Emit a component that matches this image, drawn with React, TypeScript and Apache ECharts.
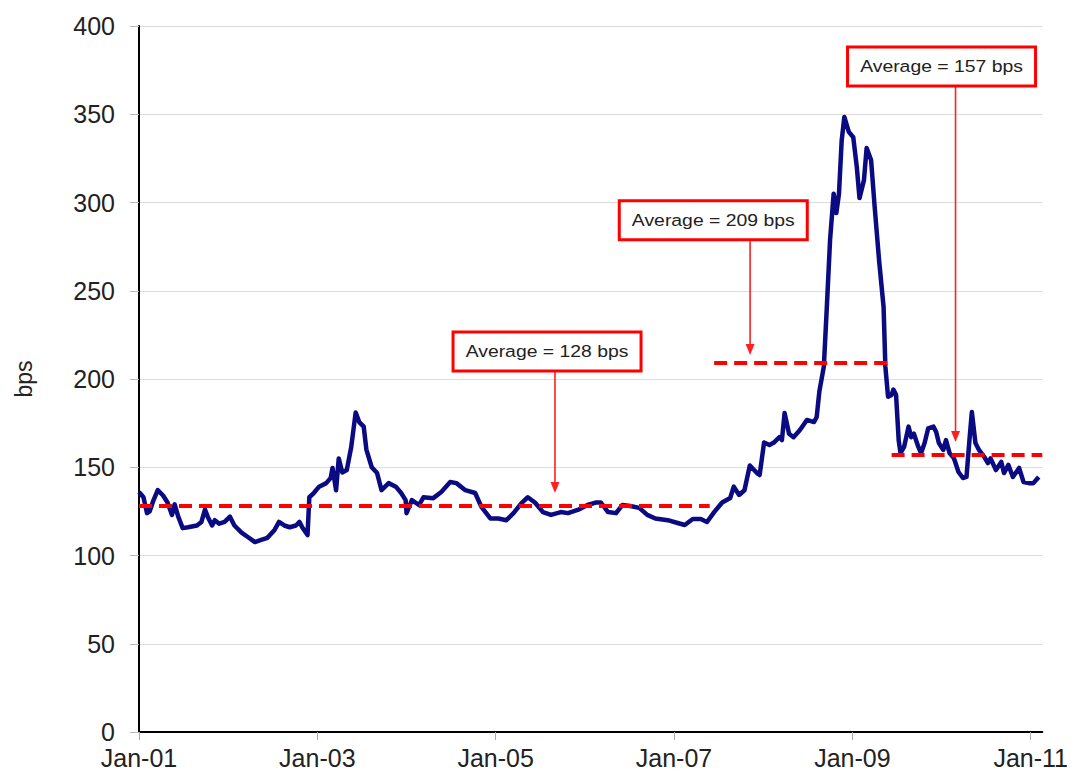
import React, { useEffect, useRef } from "react";
import * as echarts from "echarts";

// Decimal dates of the series points (years)
const years = [
  2001.0, 2001.05, 2001.09, 2001.12, 2001.16, 2001.21, 2001.27, 2001.32, 2001.37, 2001.40,
  2001.44, 2001.49, 2001.55, 2001.65, 2001.70, 2001.74, 2001.77, 2001.82, 2001.85, 2001.90,
  2001.96, 2002.02, 2002.07, 2002.15, 2002.22, 2002.30, 2002.37, 2002.44, 2002.52, 2002.57,
  2002.63, 2002.69, 2002.76, 2002.80, 2002.83, 2002.89, 2002.91, 2002.96, 2003.02, 2003.10,
  2003.15, 2003.17, 2003.21, 2003.24, 2003.28, 2003.33, 2003.38, 2003.43, 2003.47, 2003.52,
  2003.55, 2003.61, 2003.67, 2003.72, 2003.80, 2003.88, 2003.94, 2003.99, 2004.00, 2004.06,
  2004.14, 2004.19, 2004.30, 2004.39, 2004.49, 2004.56, 2004.66, 2004.77, 2004.84, 2004.94,
  2005.03, 2005.12, 2005.20, 2005.29, 2005.36, 2005.44, 2005.53, 2005.62, 2005.73, 2005.81,
  2005.92, 2006.03, 2006.12, 2006.18, 2006.26, 2006.35, 2006.42, 2006.51, 2006.61, 2006.70,
  2006.79, 2006.93, 2007.04, 2007.12, 2007.21, 2007.30, 2007.37, 2007.45, 2007.54, 2007.63,
  2007.67, 2007.73, 2007.79, 2007.85, 2007.93, 2007.96, 2008.01, 2008.07, 2008.12, 2008.18,
  2008.21, 2008.24, 2008.29, 2008.34, 2008.41, 2008.49, 2008.57, 2008.60, 2008.63, 2008.68,
  2008.71, 2008.75, 2008.79, 2008.82, 2008.85, 2008.88, 2008.91, 2008.96, 2009.01, 2009.05,
  2009.08, 2009.13, 2009.16, 2009.21, 2009.25, 2009.30, 2009.35, 2009.37, 2009.40, 2009.44,
  2009.46, 2009.49, 2009.52, 2009.54, 2009.58, 2009.63, 2009.66, 2009.69, 2009.74, 2009.77,
  2009.81, 2009.85, 2009.91, 2009.94, 2009.97, 2010.02, 2010.05, 2010.09, 2010.14, 2010.19,
  2010.24, 2010.28, 2010.31, 2010.34, 2010.38, 2010.42, 2010.48, 2010.52, 2010.55, 2010.61,
  2010.67, 2010.70, 2010.75, 2010.80, 2010.87, 2010.92, 2010.98, 2011.03, 2011.09,
];

// Spread in bps
const spreads = [
  136, 133, 124, 125, 131, 137, 134, 130, 123, 129,
  122, 115.5, 116, 117, 119, 126, 122, 117, 120, 118,
  119, 122, 117, 113, 110.5, 107.6, 108.8, 110, 114.5, 119,
  117, 116, 117, 119, 116, 111.6, 133, 135.4, 139, 141,
  144, 149.6, 137, 155, 147, 148.4, 161.5, 181, 175.6, 173,
  160, 150, 146.7, 137, 141, 139, 135.4, 131.4, 124, 131.4,
  128.6, 133, 132.5, 136, 141.6, 141, 137, 135.4, 127.5, 121,
  121, 120, 124, 129.7, 133, 130, 124.6, 123, 124.6, 124,
  125.8, 128.6, 130, 130, 124.6, 124, 128.6, 128, 127, 123,
  121, 120, 118.4, 117.3, 120.7, 120.7, 119, 124.6, 130, 132.6,
  139, 134.3, 137, 151, 146.7, 145.6, 164, 162.6, 164, 167,
  165.4, 180.7, 169, 167, 171, 176.8, 175.6, 178.5, 193, 207,
  237, 278.8, 305, 294, 305, 335, 348.5, 340, 337, 320,
  302.5, 312.7, 330.9, 324, 297.5, 267, 240.8, 207, 190, 191,
  194, 191, 165, 158, 161.5, 173, 167, 169, 161.5, 158,
  163.7, 172, 173, 170, 163.7, 159.8, 165.4, 158, 155, 147.3,
  143.9, 144.5, 163.7, 181.3, 163.7, 159.8, 155.8, 152.4, 155, 148.4,
  153, 146.7, 151.3, 144.5, 149.6, 141.6, 141, 141, 144.5,
];

// Period averages (bps) and their date ranges (years)
const avgValues = [128, 209, 157];
const avgStarts = [2001.0, 2007.45, 2009.44];
const avgEnds = [2007.4, 2009.39, 2011.13];
const avgLabels = ["Average = 128 bps", "Average = 209 bps", "Average = 157 bps"];

// Axis
const baseYear = 2001;
const xMaxYear = 2011.13;
const yTicks = [0, 50, 100, 150, 200, 250, 300, 350, 400];

// Annotation layout (box centre and arrow in data space)
const notes = [
  { boxT: 4.576, boxV: 215.6, arrowT: 4.665, tipV: 135.4 },
  { boxT: 6.44, boxV: 290, arrowT: 6.853, tipV: 213.6 },
  { boxT: 9.0, boxV: 377, arrowT: 9.157, tipV: 164.3 },
];

export default function App() {
  const ref = useRef<HTMLDivElement>(null);
  useEffect(() => {
    if (!ref.current) return;
    const chart = echarts.init(ref.current, null, { renderer: "svg" });
    const lineData = years.map((y, i) => [y - baseYear, spreads[i]]);
    const avgSeries = avgValues.map((v, i) => ({
      type: "line",
      data: [
        [avgStarts[i] - baseYear, v],
        [avgEnds[i] - baseYear, v],
      ],
      symbol: "none",
      silent: true,
      z: 3,
      lineStyle: { color: "#ff0000", width: 4, type: [13, 7] },
    }));
    chart.setOption({
      animation: false,
      backgroundColor: "#ffffff",
      grid: { left: 139, right: 24, top: 26, bottom: 42, containLabel: false },
      xAxis: {
        type: "value",
        min: 0,
        max: xMaxYear - baseYear,
        interval: 2,
        axisLine: { show: true, onZero: false, lineStyle: { color: "#000", width: 2 } },
        axisTick: { show: true, length: 8, lineStyle: { color: "#aaaaaa" } },
        splitLine: { show: false },
        axisLabel: {
          showMaxLabel: false,
          margin: 13,
          color: "#222",
          fontSize: 25,
          fontFamily: "Liberation Sans, Arial, sans-serif",
          formatter: (v: number) =>
            Math.abs(v - Math.round(v)) < 1e-6 && Math.round(v) % 2 === 0
              ? "Jan-" + String((baseYear + Math.round(v)) % 100).padStart(2, "0")
              : "",
        },
      },
      yAxis: {
        type: "value",
        min: yTicks[0],
        max: yTicks[yTicks.length - 1],
        interval: yTicks[1] - yTicks[0],
        name: "bps",
        nameLocation: "middle",
        nameRotate: 90,
        nameGap: 104,
        nameTextStyle: { fontSize: 23, color: "#222", fontFamily: "Liberation Sans, Arial, sans-serif" },
        axisLine: { show: true, lineStyle: { color: "#000", width: 2 } },
        axisTick: { show: true, length: 9, lineStyle: { color: "#bbbbbb" } },
        splitLine: { show: true, lineStyle: { color: "#dddddd", width: 1 } },
        axisLabel: {
          margin: 24,
          color: "#222",
          fontSize: 25,
          fontFamily: "Liberation Sans, Arial, sans-serif",
        },
      },
      series: [
        ...avgSeries,
        {
          type: "line",
          data: lineData,
          symbol: "none",
          z: 2,
          lineStyle: { color: "#0a0a82", width: 4.5, join: "round" },
        },
      ],
    });

    const graphics: any[] = [];
    notes.forEach((n, i) => {
      const c = chart.convertToPixel({ gridIndex: 0 }, [n.boxT, n.boxV]) as number[];
      const a = chart.convertToPixel({ gridIndex: 0 }, [n.arrowT, n.tipV]) as number[];
      const w = 188;
      const h = 39;
      const bottom = c[1] + h / 2;
      graphics.push({
        type: "line",
        shape: { x1: a[0], y1: bottom, x2: a[0], y2: a[1] - 9 },
        style: { stroke: "#ff2020", lineWidth: 1.6 },
        z: 10,
        silent: true,
      });
      graphics.push({
        type: "polygon",
        shape: { points: [[a[0] - 4.5, a[1] - 11], [a[0] + 4.5, a[1] - 11], [a[0], a[1]]] },
        style: { fill: "#ff2020" },
        z: 10,
        silent: true,
      });
      graphics.push({
        type: "rect",
        shape: { x: c[0] - w / 2, y: c[1] - h / 2, width: w, height: h },
        style: { fill: "#ffffff", stroke: "#ff0000", lineWidth: 3 },
        z: 11,
        silent: true,
      });
      graphics.push({
        type: "text",
        x: c[0],
        y: c[1],
        scaleX: 1.14,
        style: {
          text: avgLabels[i],
          fontSize: 17,
          fontFamily: "Liberation Sans, Arial, sans-serif",
          fill: "#222",
          align: "center",
          verticalAlign: "middle",
        },
        z: 12,
        silent: true,
      });
    });
    chart.setOption({ graphic: graphics });

    return () => chart.dispose();
  }, []);
  return (
    <div
      ref={ref}
      style={{ position: "fixed", left: 0, top: 0, width: 1071, height: 774, background: "#fff" }}
    />
  );
}
